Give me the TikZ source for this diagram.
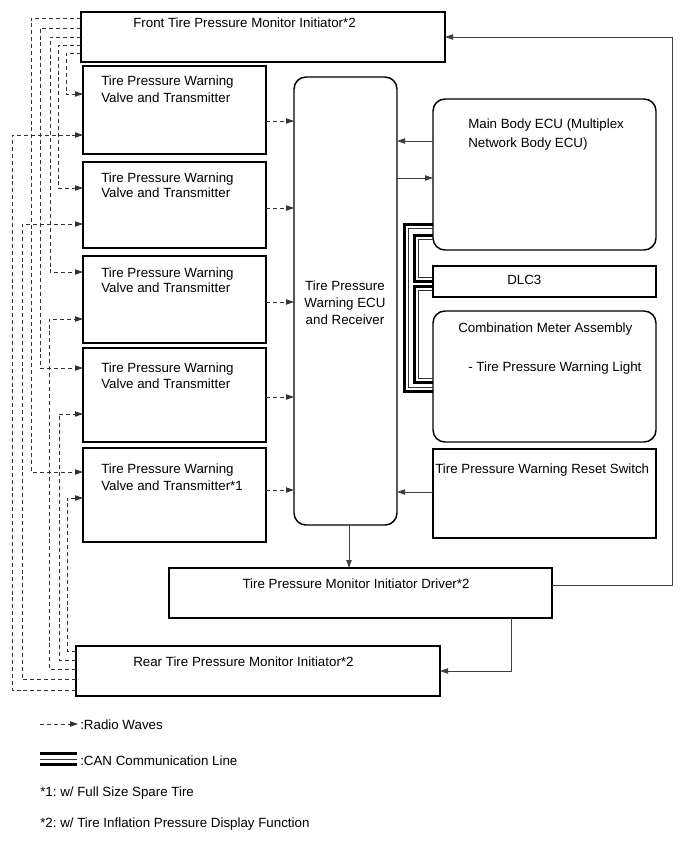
\documentclass[tikz,border=0pt]{standalone}
\usepackage{fontspec}
\setmainfont{Liberation Sans}
\usetikzlibrary{arrows.meta,fit}
\frenchspacing
\begin{document}
\begin{tikzpicture}[x=0.75pt,y=-0.75pt,
  box/.style={draw=black,line width=0.9pt,inner sep=0pt,outer sep=0pt},
  tbox/.style={box,line width=1.6pt},
  rbox/.style={box,line width=1.1pt,rounded corners=9pt},
  txt/.style={anchor=base west,inner sep=0pt,font=\fontsize{10}{12}\selectfont},
  ctxt/.style={txt,anchor=base},
  tip/.style={-{Triangle[length=6pt,width=4pt]}},
  radio/.style={draw=black!80,line width=0.6pt,dash pattern=on 3pt off 2.2pt,tip},
  conn/.style={draw=black!75,line width=0.6pt,tip},
  canthick/.style={draw=black,line width=2.2pt,line join=miter},
  canthin/.style={draw=black!80,line width=0.7pt,line join=miter}
]
\useasboundingbox (0,0) rectangle (689,854);

% boxes
\node[tbox,fit={(81,12) (445,62)}] (fi) {};
\node[box,fit={(83,66) (266,154)}] (tw1) {};
\node[box,fit={(83,162) (266,248)}] (tw2) {};
\node[box,fit={(83,256) (266,343)}] (tw3) {};
\node[box,fit={(83,348) (266,442)}] (tw4) {};
\node[box,fit={(83,448) (266,542)}] (tw5) {};
\node[rbox,fit={(294,77) (397,525)}] (ecu) {};
\node[rbox,fit={(433,99) (656,250)}] (mb) {};
\node[box,fit={(433,266) (656,297)}] (dlc) {};
\node[rbox,fit={(433,311) (656,442)}] (cm) {};
\node[box,fit={(433,449) (656,538)}] (rs) {};
\node[tbox,fit={(169,568) (552,618)}] (drv) {};
\node[box,line width=1.1pt,fit={(76,646) (440,696)}] (ri) {};

% texts
\node[txt] (tfi) at (133,27) {Front Tire Pressure Monitor Initiator*2};
\node[txt] (t1a) at (101,85) {Tire Pressure Warning};
\node[txt] (t1b) at (101,102) {Valve and Transmitter};
\node[txt] (t2a) at (101,182) {Tire Pressure Warning};
\node[txt] (t2b) at (101,197) {Valve and Transmitter};
\node[txt] (t3a) at (101,277) {Tire Pressure Warning};
\node[txt] (t3b) at (101,292) {Valve and Transmitter};
\node[txt] (t4a) at (101,372) {Tire Pressure Warning};
\node[txt] (t4b) at (101,388) {Valve and Transmitter};
\node[txt] (t5a) at (101,473) {Tire Pressure Warning};
\node[txt] (t5b) at (101,490) {Valve and Transmitter*1};
\node[ctxt] (tea) at (345,290) {Tire Pressure};
\node[ctxt] (teb) at (345,307) {Warning ECU};
\node[ctxt] (tec) at (345,324) {and Receiver};
\node[txt] (tma) at (468,128) {Main Body ECU (Multiplex};
\node[txt] (tmb) at (468,147) {Network Body ECU)};
\node[txt] (tdl) at (507,284) {DLC3};
\node[txt] (tca) at (458,332) {Combination Meter Assembly};
\node[txt] (tcb) at (468,371) {- Tire Pressure Warning Light};
\node[txt] (trs) at (435,473) {Tire Pressure Warning Reset Switch};
\node[ctxt] (tdr) at (356,588) {Tire Pressure Monitor Initiator Driver*2};
\node[txt] (tri) at (133,666) {Rear Tire Pressure Monitor Initiator*2};

% radio waves to ECU
\draw[radio] (tw1.east |- 0,121) -- (ecu.west |- 0,121);
\draw[radio] (tw2.east |- 0,208) -- (ecu.west |- 0,208);
\draw[radio] (tw3.east |- 0,302) -- (ecu.west |- 0,302);
\draw[radio] (tw4.east |- 0,397) -- (ecu.west |- 0,397);
\draw[radio] (tw5.east |- 0,490) -- (ecu.west |- 0,490);

% front initiator radio waves
\draw[radio] (fi.west |- 0,18) -| (31,472) -- (tw5.west |- 0,472);
\draw[radio] (fi.west |- 0,28) -| (40,368) -- (tw4.west |- 0,368);
\draw[radio] (fi.west |- 0,37) -| (50,272) -- (tw3.west |- 0,272);
\draw[radio] (fi.west |- 0,45) -| (58,188) -- (tw2.west |- 0,188);
\draw[radio] (fi.west |- 0,53) -| (66,94) -- (tw1.west |- 0,94);

% rear initiator radio waves
\draw[radio] (ri.west |- 0,651) -| (67,498) -- (tw5.west |- 0,498);
\draw[radio] (ri.west |- 0,660) -| (59,414) -- (tw4.west |- 0,414);
\draw[radio] (ri.west |- 0,669) -| (49,319) -- (tw3.west |- 0,319);
\draw[radio] (ri.west |- 0,679) -| (22,224) -- (tw2.west |- 0,224);
\draw[radio] (ri.west |- 0,690) -| (12,135) -- (tw1.west |- 0,135);

% solid connectors
\draw[conn] (mb.west |- 0,141) -- (ecu.east |- 0,141);
\draw[conn] (ecu.east |- 0,178) -- (mb.west |- 0,178);
\draw[conn] (rs.west |- 0,492) -- (ecu.east |- 0,492);
\draw[conn] (ecu.south -| 349,0) -- (drv.north -| 349,0);
\draw[conn] (drv.east |- 0,585) -| (672,37) -- (fi.east |- 0,37);
\draw[conn] (drv.south -| 511,0) |- (ri.east |- 0,671);

% CAN lines
\draw[canthick] (mb.west |- 0,224.5) -- (404.5,224.5) -- (404.5,391.5) -- (cm.west |- 0,391.5);
\draw[canthin] (mb.west |- 0,228.5) -- (408.5,228.5) -- (408.5,387.5) -- (cm.west |- 0,387.5);
\draw[canthick] (mb.west |- 0,235.5) -- (414.5,235.5) -- (414.5,281.5) -- (dlc.west |- 0,281.5);
\draw[canthin] (mb.west |- 0,239.5) -- (418.5,239.5) -- (418.5,277.5) -- (dlc.west |- 0,277.5);
\draw[canthick] (dlc.west |- 0,286.5) -- (414.5,286.5) -- (414.5,382.5) -- (cm.west |- 0,382.5);
\draw[canthin] (dlc.west |- 0,290.5) -- (418.5,290.5) -- (418.5,378.5) -- (cm.west |- 0,378.5);

% legend
\coordinate (lr1) at (40,724);
\coordinate (lr2) at (78,724);
\draw[radio] (lr1) -- (lr2);
\node[txt] (lgr) at (80,729) {:Radio Waves};
\draw[canthick] (40,753.5) -- (77,753.5);
\draw[canthin] (40,759) -- (77,759);
\draw[canthick] (40,764.5) -- (77,764.5);
\node[txt] (lgc) at (80,765) {:CAN Communication Line};
\node[txt] (lg1) at (40,796) {*1: w/ Full Size Spare Tire};
\node[txt] (lg2) at (40,827) {*2: w/ Tire Inflation Pressure Display Function};
\end{tikzpicture}
\end{document}
